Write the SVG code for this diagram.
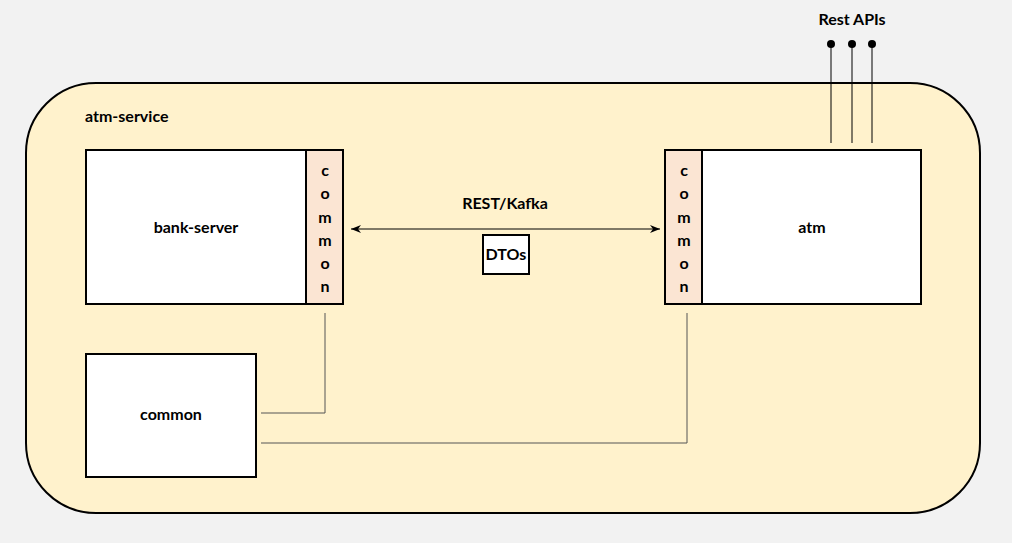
<svg xmlns="http://www.w3.org/2000/svg" width="1012" height="543" viewBox="0 0 1012 543">
<style>
.t{font-family:Lato,"Open Sans","Liberation Sans",sans-serif;font-weight:bold;font-size:16px;fill:#000;text-anchor:middle}
.box{fill:#fff;stroke:#000;stroke-width:2}
.strip{fill:#fbe5d3;stroke:#000;stroke-width:2}
.c{fill:none;stroke:#555;stroke-width:1}
</style>
<defs>
<marker id="ah" viewBox="0 0 10 8" refX="10" refY="4" markerWidth="10" markerHeight="8" markerUnits="userSpaceOnUse" orient="auto-start-reverse">
<path d="M0,0 L10,4 L0,8 L3,4 Z" fill="#000"/>
</marker>
</defs>
<rect width="1012" height="543" fill="#f2f2f2"/>
<g id="atm-service">
<rect x="26" y="83" width="954" height="430" rx="70" ry="70" fill="#fff2cc" stroke="#000" stroke-width="2"/>
<text class="t" x="85" y="122" style="text-anchor:start">atm-service</text>
</g>
<g id="connectors">
<line x1="351" y1="229" x2="660" y2="229" stroke="#000" stroke-width="1" marker-start="url(#ah)" marker-end="url(#ah)"/>
<path class="c" d="M325,313 V413 H261"/>
<path class="c" d="M687,313 V443 H261"/>
<line x1="831" y1="44" x2="831" y2="143" stroke="#000" stroke-width="1"/>
<line x1="852" y1="44" x2="852" y2="143" stroke="#000" stroke-width="1"/>
<line x1="872" y1="44" x2="872" y2="143" stroke="#000" stroke-width="1"/>
<circle cx="831" cy="44" r="4" fill="#000"/>
<circle cx="852" cy="44" r="4" fill="#000"/>
<circle cx="872" cy="44" r="4" fill="#000"/>
<text class="t" x="852" y="25">Rest APIs</text>
<text class="t" x="505" y="209">REST/Kafka</text>
</g>
<g id="bank-server">
<rect class="box" x="86" y="150" width="257" height="154"/>
<rect class="strip" x="306" y="150" width="37" height="154"/>
<text class="t" x="196" y="233">bank-server</text>
<text class="t" x="325" y="176">c</text>
<text class="t" x="325" y="199">o</text>
<text class="t" x="325" y="223">m</text>
<text class="t" x="325" y="246">m</text>
<text class="t" x="325" y="269">o</text>
<text class="t" x="325" y="292">n</text>
</g>
<g id="atm">
<rect class="box" x="665" y="150" width="256" height="154"/>
<rect class="strip" x="665" y="150" width="37" height="154"/>
<text class="t" x="812" y="233">atm</text>
<text class="t" x="684" y="176">c</text>
<text class="t" x="684" y="199">o</text>
<text class="t" x="684" y="223">m</text>
<text class="t" x="684" y="246">m</text>
<text class="t" x="684" y="269">o</text>
<text class="t" x="684" y="292">n</text>
</g>
<g id="common">
<rect class="box" x="86" y="354" width="170" height="123"/>
<text class="t" x="171" y="420">common</text>
</g>
<g id="dtos">
<rect class="box" x="483" y="235" width="46" height="39"/>
<text class="t" x="506" y="260">DTOs</text>
</g>
</svg>
